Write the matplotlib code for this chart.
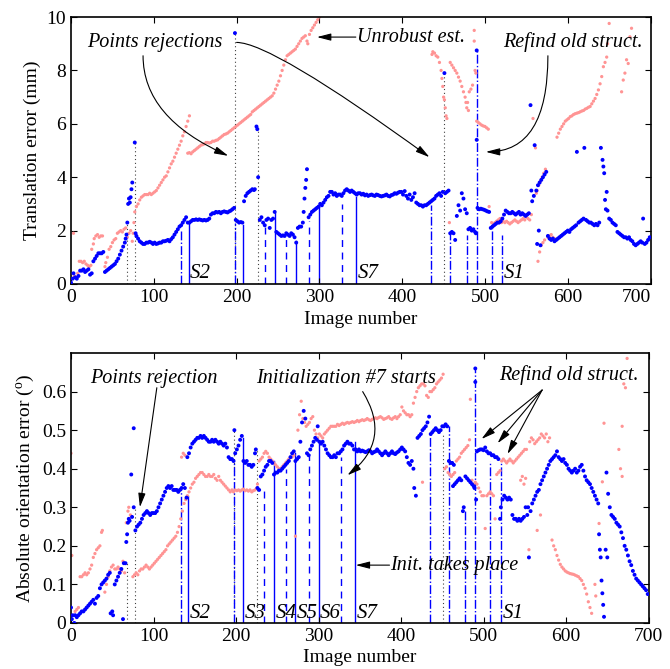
import numpy as np
import matplotlib
matplotlib.use('Agg')
import matplotlib.pyplot as plt

plt.rcParams['font.family'] = ['Liberation Serif', 'DejaVu Serif']
plt.rcParams['mathtext.fontset'] = 'custom'
plt.rcParams['mathtext.rm'] = 'Liberation Serif'
plt.rcParams['mathtext.it'] = 'Liberation Serif:italic'

# ---- translation error (top), robust estimation (blue) ----
tb_x = [0, 2, 3, 5, 7, 9, 11, 13, 15, 17,
        19, 21, 23, 25, 27, 29, 31, 33, 35, 37,
        39, 41, 43, 45, 47, 49, 51, 53, 55, 57,
        59, 61, 63, 65, 66, 67, 68, 69, 70, 71,
        72, 73, 74, 77, 78, 79, 81, 83, 85, 87,
        89, 91, 93, 95, 97, 99, 101, 103, 105, 107,
        109, 111, 113, 115, 117, 119, 121, 123, 125, 127,
        129, 131, 133, 135, 137, 139, 141, 143, 145, 147,
        149, 151, 153, 155, 157, 159, 161, 163, 165, 167,
        169, 171, 173, 175, 177, 179, 181, 183, 185, 187,
        189, 191, 193, 195, 197, 198, 199, 201, 203, 205,
        207, 209, 211, 213, 215, 217, 219, 221, 222, 224,
        225, 226, 228, 230, 232, 234, 236, 238, 240, 242,
        244, 246, 248, 250, 252, 254, 256, 258, 260, 262,
        264, 266, 268, 270, 272, 274, 276, 278, 280, 281,
        282, 283, 284, 285, 287, 289, 291, 293, 295, 297,
        299, 301, 303, 305, 307, 309, 311, 313, 315, 317,
        319, 321, 323, 325, 327, 329, 331, 333, 335, 337,
        339, 341, 343, 345, 347, 349, 351, 353, 355, 357,
        359, 361, 363, 365, 367, 369, 371, 373, 375, 377,
        379, 381, 383, 385, 387, 389, 391, 393, 395, 397,
        399, 401, 403, 405, 407, 409, 411, 413, 415, 417,
        419, 421, 423, 425, 427, 429, 431, 433, 435, 437,
        439, 441, 443, 445, 447, 449, 451, 452, 454, 456,
        458, 460, 462, 464, 466, 468, 470, 472, 474, 476,
        478, 480, 482, 484, 486, 488, 489, 490, 490, 491,
        493, 495, 497, 499, 501, 503, 505, 507, 509, 511,
        513, 515, 517, 519, 521, 523, 525, 527, 529, 531,
        533, 535, 537, 539, 541, 543, 545, 547, 549, 551,
        553, 555, 556, 557, 559, 560, 562, 563, 564, 565,
        566, 567, 568, 570, 572, 574, 576, 578, 580, 582,
        584, 586, 588, 590, 592, 594, 596, 598, 600, 602,
        604, 606, 608, 610, 611, 613, 615, 617, 619, 620,
        622, 624, 626, 628, 630, 632, 634, 636, 638, 640,
        642, 643, 644, 645, 646, 647, 648, 650, 652, 654,
        656, 658, 660, 662, 664, 666, 668, 670, 672, 674,
        676, 678, 680, 682, 684, 686, 688, 690, 691, 693,
        695, 697, 699]
tb_y = [0.05, 0.2, 0.4, 0.25, 0.2, 0.3, 0.5, 0.5, 0.55, 0.45,
        0.5, 0.55, 0.35, 0.4, 0.85, 0.95, 1.05, 1.15, 1.15, 1.15,
        1.2, 0.45, 0.5, 0.55, 0.6, 0.65, 0.7, 0.75, 0.85, 0.95,
        1.1, 1.25, 1.4, 1.55, 1.7, 1.85, 2.3, 3.0, 3.2, 3.05,
        3.25, 3.55, 3.8, 5.3, 1.9, 1.8, 1.7, 1.6, 1.55, 1.5,
        1.5, 1.55, 1.55, 1.58, 1.55, 1.5, 1.55, 1.5, 1.52, 1.55,
        1.55, 1.6, 1.6, 1.62, 1.65, 1.6, 1.68, 1.75, 1.85, 1.95,
        2.05, 2.15, 2.2, 2.3, 2.4, 2.5, 2.3, 2.3, 2.35, 2.4,
        2.4, 2.42, 2.4, 2.42, 2.4, 2.38, 2.4, 2.38, 2.4, 2.45,
        2.6, 2.65, 2.65, 2.7, 2.68, 2.7, 2.65, 2.7, 2.72, 2.7,
        2.68, 2.72, 2.75, 2.8, 2.85, 9.4, 2.4, 2.35, 2.3, 2.32,
        2.3, 3.1, 3.3, 3.4, 3.45, 3.5, 3.55, 3.52, 3.55, 5.9,
        5.8, 4.0, 2.4, 2.5, 2.3, 2.2, 2.4, 2.45, 2.1, 2.4,
        2.45, 2.7, 1.95, 1.9, 1.85, 1.8, 1.82, 1.8, 1.9, 1.85,
        1.8, 1.9, 1.85, 1.75, 1.55, 2.1, 2.15, 2.15, 2.3, 2.7,
        3.2, 3.6, 3.9, 4.3, 2.5, 2.6, 2.7, 2.75, 2.8, 2.85,
        2.9, 3.0, 2.95, 3.05, 3.15, 3.25, 3.3, 3.45, 3.45, 3.35,
        3.4, 3.3, 3.35, 3.35, 3.3, 3.4, 3.5, 3.55, 3.5, 3.45,
        3.5, 3.45, 3.4, 3.35, 3.4, 3.4, 3.35, 3.38, 3.32, 3.35,
        3.3, 3.33, 3.35, 3.32, 3.3, 3.35, 3.33, 3.3, 3.28, 3.3,
        3.32, 3.35, 3.3, 3.28, 3.33, 3.35, 3.4, 3.38, 3.42, 3.45,
        3.45, 3.35, 3.48, 3.3, 3.2, 3.35, 3.15, 3.25, 3.4, 3.05,
        3.0, 2.95, 2.95, 2.9, 2.95, 2.95, 3.0, 3.05, 3.1, 3.15,
        3.2, 3.3, 3.35, 3.4, 3.3, 3.45, 7.9, 3.4, 3.45, 3.5,
        1.9, 1.95, 1.9, 1.65, 2.55, 2.95, 2.75, 3.4, 3.2, 2.8,
        2.65, 2.05, 2.1, 2.0, 2.05, 1.95, 1.9, 8.75, 5.4, 2.85,
        2.8, 2.82, 2.8, 2.78, 2.75, 2.72, 2.7, 2.1, 2.15, 2.2,
        2.25, 2.3, 2.3, 2.35, 2.45, 2.6, 2.75, 2.7, 2.65, 2.65,
        2.7, 2.65, 2.6, 2.65, 2.7, 2.6, 2.65, 2.6, 2.55, 2.6,
        2.65, 6.7, 3.5, 3.1, 3.3, 5.2, 3.5, 1.5, 3.7, 2.0,
        3.8, 1.45, 3.9, 4.0, 4.1, 4.2, 1.8, 1.7, 1.65, 1.7,
        1.6, 1.65, 1.7, 1.75, 1.8, 1.85, 1.9, 1.95, 2.0, 1.95,
        2.05, 2.1, 2.15, 2.2, 4.95, 2.3, 2.35, 2.4, 2.45, 5.1,
        2.4, 2.35, 2.3, 2.3, 2.25, 2.2, 2.25, 2.2, 2.3, 5.1,
        4.65, 4.4, 4.15, 3.15, 2.8, 3.45, 2.75, 2.45, 2.4, 2.3,
        2.25, 2.2, 1.95, 1.9, 1.85, 1.8, 1.75, 1.75, 1.7, 1.75,
        1.65, 1.6, 1.5, 1.45, 1.5, 1.55, 1.6, 1.55, 2.45, 1.5,
        1.55, 1.65, 1.75]

# ---- translation error (top), unrobust estimation (pink) ----
tp_x = [3, 4, 6, 8, 10, 12, 14, 16, 18, 20,
        22, 24, 25, 27, 28, 30, 32, 34, 36, 38,
        41, 42, 44, 46, 48, 50, 52, 54, 56, 58,
        60, 62, 64, 66, 68, 70, 72, 74, 75, 76,
        77, 79, 81, 83, 85, 87, 89, 91, 93, 95,
        97, 99, 101, 103, 105, 107, 109, 111, 113, 115,
        117, 119, 121, 123, 125, 127, 129, 131, 133, 135,
        137, 139, 141, 143, 141, 143, 145, 147, 149, 151,
        153, 155, 157, 159, 161, 163, 165, 167, 169, 171,
        173, 175, 177, 179, 181, 183, 185, 187, 189, 191,
        193, 195, 197, 199, 201, 203, 205, 207, 209, 211,
        213, 215, 217, 219, 221, 223, 225, 227, 229, 231,
        233, 235, 237, 239, 241, 243, 245, 247, 249, 251,
        253, 255, 257, 259, 261, 263, 265, 267, 269, 271,
        273, 275, 277, 279, 281, 283, 285, 286, 288, 290,
        292, 294, 296, 298, 300, 436, 437, 439, 441, 443,
        445, 447, 448, 449, 450, 451, 452, 453, 454, 457,
        458, 460, 462, 464, 466, 468, 470, 472, 474, 476,
        477, 478, 479, 480, 481, 483, 485, 487, 487, 488,
        489, 490, 492, 494, 496, 498, 500, 502, 504, 505,
        508, 510, 512, 514, 516, 518, 520, 522, 524, 526,
        528, 530, 532, 534, 536, 538, 540, 542, 544, 546,
        548, 550, 552, 554, 556, 558, 561, 562, 563, 565,
        567, 569, 571, 573, 564, 566, 568, 570, 572, 576,
        578, 580, 582, 584, 587, 589, 591, 593, 595, 597,
        599, 601, 603, 605, 607, 609, 611, 613, 615, 617,
        619, 621, 623, 625, 627, 629, 631, 633, 635, 637,
        639, 641, 643, 645, 647, 648, 650, 665, 667, 669,
        671, 673, 675, 677]
tp_y = [1.9, 0.3, 0.25, 0.4, 0.85, 0.85, 0.8, 0.85, 0.75, 0.7,
        0.65, 0.7, 1.3, 1.5, 1.7, 1.8, 1.85, 1.75, 1.8, 1.8,
        0.65, 0.8, 1.0, 1.3, 1.4, 1.55, 1.65, 1.7, 1.9, 1.95,
        2.0, 1.95, 2.05, 2.1, 1.75, 1.9, 2.0, 1.6, 1.9, 2.3,
        2.7, 2.9, 3.0, 3.15, 3.25, 3.3, 3.35, 3.35, 3.35, 3.4,
        3.35, 3.4, 3.45, 3.5, 3.6, 3.7, 3.8, 3.9, 4.0, 4.05,
        4.2, 4.35, 4.5, 4.6, 4.75, 4.9, 5.05, 5.2, 5.35, 5.55,
        5.7, 5.9, 6.1, 6.3, 4.9, 4.92, 4.88, 4.95, 5.0, 5.05,
        5.1, 5.15, 5.2, 5.22, 5.25, 5.3, 5.3, 5.28, 5.3, 5.35,
        5.35, 5.38, 5.4, 5.45, 5.5, 5.55, 5.6, 5.62, 5.65, 5.7,
        5.75, 5.8, 5.85, 5.9, 5.95, 6.0, 6.05, 6.1, 6.15, 6.2,
        6.25, 6.3, 6.35, 6.45, 6.5, 6.55, 6.6, 6.65, 6.7, 6.75,
        6.8, 6.85, 6.9, 6.95, 7.0, 7.05, 7.15, 7.3, 7.45, 7.6,
        7.8, 8.0, 8.2, 8.4, 8.55, 8.6, 8.65, 8.7, 8.75, 8.8,
        8.9, 9.0, 9.1, 9.2, 9.25, 9.3, 9.1, 9.0, 9.35, 9.5,
        9.6, 9.7, 9.8, 9.9, 10.0, 8.6, 8.7, 8.65, 8.55, 8.5,
        8.3, 8.0, 7.7, 7.4, 7.0, 6.9, 6.6, 6.3, 6.2, 2.3,
        8.3, 8.2, 8.1, 8.0, 7.9, 7.75, 7.6, 7.4, 7.2, 7.0,
        6.8, 6.6, 6.8, 6.5, 7.2, 7.3, 7.45, 9.5, 9.1, 8.0,
        7.9, 6.1, 6.05, 6.0, 5.95, 5.92, 5.9, 5.85, 5.8, 2.9,
        2.3, 2.25, 2.3, 2.35, 2.4, 2.45, 2.3, 2.35, 2.3, 2.35,
        2.3, 2.25, 2.3, 2.35, 2.4, 2.35, 2.3, 2.35, 2.4, 2.45,
        2.4, 2.5, 2.45, 2.4, 2.6, 6.2, 5.1, 3.4, 3.5, 3.7,
        3.85, 4.0, 4.15, 4.3, 0.85, 1.2, 1.45, 1.55, 1.65, 1.75,
        1.8, 1.85, 1.75, 1.7, 5.5, 5.65, 5.8, 5.9, 6.0, 6.1,
        6.15, 6.2, 6.27, 6.3, 6.35, 6.38, 6.4, 6.42, 6.45, 6.48,
        6.5, 6.55, 6.58, 6.62, 6.65, 6.75, 6.85, 6.95, 7.1, 7.27,
        7.5, 7.77, 8.14, 8.3, 8.5, 9.0, 9.76, 7.2, 7.64, 7.9,
        8.4, 8.26, 9.26, 9.58]

# ---- orientation error (bottom), robust (blue) ----
bb_x = [0, 1, 2, 4, 5, 7, 9, 11, 13, 15,
        17, 19, 21, 23, 25, 27, 29, 31, 33, 35,
        37, 39, 41, 43, 45, 47, 48, 50, 51, 53,
        55, 57, 59, 61, 63, 64, 66, 67, 68, 69,
        70, 71, 73, 74, 76, 76, 78, 80, 82, 84,
        86, 88, 90, 92, 94, 96, 98, 100, 102, 104,
        106, 108, 110, 112, 114, 116, 118, 120, 122, 124,
        126, 128, 130, 132, 134, 136, 138, 140, 141, 143,
        145, 147, 149, 151, 153, 155, 157, 159, 161, 163,
        165, 167, 169, 171, 173, 175, 177, 179, 181, 183,
        185, 187, 189, 191, 193, 195, 197, 198, 199, 201,
        203, 205, 207, 209, 211, 213, 215, 217, 219, 221,
        223, 224, 226, 228, 230, 232, 234, 236, 238, 240,
        242, 244, 246, 248, 250, 252, 254, 256, 258, 260,
        262, 264, 266, 268, 270, 272, 274, 276, 278, 280,
        282, 284, 286, 288, 290, 292, 294, 296, 298, 299,
        301, 303, 305, 307, 309, 311, 313, 315, 317, 319,
        321, 323, 325, 327, 329, 331, 333, 335, 337, 339,
        341, 343, 345, 347, 349, 351, 353, 355, 357, 359,
        361, 363, 365, 367, 369, 371, 373, 375, 377, 379,
        381, 383, 385, 387, 389, 391, 393, 395, 397, 399,
        401, 403, 405, 407, 409, 411, 413, 415, 416, 418,
        420, 422, 424, 426, 428, 430, 432, 434, 436, 438,
        440, 442, 444, 446, 448, 450, 452, 454, 456, 458,
        460, 462, 464, 463, 465, 467, 469, 471, 473, 475,
        476, 478, 480, 482, 484, 486, 488, 489, 490, 490,
        491, 492, 494, 496, 498, 500, 502, 504, 506, 508,
        510, 512, 514, 516, 518, 520, 521, 523, 525, 527,
        529, 531, 533, 535, 537, 539, 541, 543, 545, 547,
        549, 551, 553, 554, 555, 557, 559, 561, 563, 565,
        567, 569, 571, 573, 575, 577, 579, 581, 583, 585,
        587, 589, 591, 593, 595, 597, 599, 601, 603, 605,
        607, 609, 611, 613, 615, 617, 619, 621, 623, 625,
        627, 629, 631, 633, 635, 637, 639, 640, 641, 642,
        643, 644, 645, 646, 648, 649, 650, 651, 653, 655,
        657, 659, 661, 663, 665, 667, 669, 671, 673, 675,
        677, 679, 681, 683, 685, 687, 689, 691, 693, 695,
        697, 699]
bb_y = [0.04, 0.01, 0.02, 0.0, 0.02, 0.015, 0.02, 0.025, 0.03, 0.03,
        0.035, 0.04, 0.045, 0.05, 0.055, 0.06, 0.05, 0.065, 0.07, 0.09,
        0.1, 0.105, 0.11, 0.115, 0.125, 0.13, 0.025, 0.03, 0.02, 0.1,
        0.11, 0.12, 0.13, 0.14, 0.01, 0.155, 0.155, 0.21, 0.23, 0.26,
        0.27, 0.265, 0.385, 0.275, 0.505, 0.3, 0.24, 0.25, 0.255, 0.26,
        0.27, 0.28, 0.285, 0.29, 0.285, 0.28, 0.285, 0.285, 0.285, 0.29,
        0.3, 0.31, 0.32, 0.33, 0.34, 0.35, 0.355, 0.35, 0.355, 0.345,
        0.345, 0.345, 0.34, 0.345, 0.35, 0.36, 0.35, 0.325, 0.43, 0.44,
        0.455, 0.465, 0.47, 0.475, 0.48, 0.48, 0.485, 0.48, 0.485, 0.48,
        0.475, 0.47, 0.47, 0.475, 0.47, 0.475, 0.47, 0.465, 0.47, 0.465,
        0.46, 0.465, 0.455, 0.43, 0.425, 0.425, 0.42, 0.5, 0.44, 0.45,
        0.46, 0.475, 0.485, 0.42, 0.415, 0.42, 0.41, 0.41, 0.405, 0.41,
        0.44, 0.45, 0.35, 0.345, 0.38, 0.385, 0.395, 0.405, 0.41, 0.42,
        0.42, 0.415, 0.385, 0.39, 0.39, 0.395, 0.395, 0.4, 0.405, 0.41,
        0.415, 0.42, 0.43, 0.44, 0.445, 0.42, 0.425, 0.43, 0.47, 0.52,
        0.55, 0.53, 0.44, 0.435, 0.45, 0.46, 0.47, 0.48, 0.475, 0.51,
        0.47, 0.465, 0.47, 0.46, 0.45, 0.44, 0.435, 0.43, 0.43, 0.435,
        0.43, 0.44, 0.44, 0.445, 0.45, 0.46, 0.465, 0.47, 0.465, 0.465,
        0.46, 0.45, 0.45, 0.445, 0.45, 0.445, 0.447, 0.445, 0.443, 0.445,
        0.448, 0.445, 0.44, 0.443, 0.445, 0.45, 0.445, 0.44, 0.435, 0.44,
        0.445, 0.44, 0.435, 0.44, 0.445, 0.44, 0.438, 0.442, 0.445, 0.45,
        0.455, 0.45, 0.445, 0.43, 0.415, 0.41, 0.42, 0.4, 0.35, 0.33,
        0.48, 0.485, 0.49, 0.5, 0.505, 0.51, 0.52, 0.535, 0.49, 0.495,
        0.5, 0.505, 0.5, 0.495, 0.5, 0.51, 0.51, 0.515, 0.51, 0.42,
        0.415, 0.415, 0.41, 0.355, 0.36, 0.365, 0.37, 0.375, 0.37, 0.29,
        0.3, 0.38, 0.375, 0.37, 0.365, 0.36, 0.355, 0.35, 0.66, 0.625,
        0.32, 0.445, 0.448, 0.45, 0.45, 0.448, 0.455, 0.445, 0.44, 0.44,
        0.435, 0.435, 0.43, 0.43, 0.425, 0.27, 0.3, 0.32, 0.33, 0.325,
        0.32, 0.325, 0.32, 0.28, 0.27, 0.27, 0.265, 0.27, 0.265, 0.27,
        0.275, 0.3, 0.28, 0.3, 0.17, 0.29, 0.31, 0.32, 0.33, 0.34,
        0.345, 0.36, 0.37, 0.38, 0.39, 0.4, 0.41, 0.42, 0.425, 0.43,
        0.435, 0.445, 0.43, 0.425, 0.42, 0.425, 0.415, 0.41, 0.4, 0.395,
        0.39, 0.395, 0.4, 0.39, 0.395, 0.405, 0.41, 0.395, 0.38, 0.37,
        0.365, 0.36, 0.35, 0.34, 0.33, 0.32, 0.31, 0.23, 0.19, 0.17,
        0.11, 0.077, 0.047, 0.016, 0.19, 0.39, 0.17, 0.335, 0.3, 0.28,
        0.275, 0.27, 0.26, 0.255, 0.25, 0.235, 0.22, 0.2, 0.19, 0.175,
        0.16, 0.15, 0.135, 0.125, 0.115, 0.11, 0.105, 0.1, 0.095, 0.09,
        0.085, 0.075]

# ---- orientation error (bottom), unrobust (pink) ----
bp_x = [0, 1, 3, 5, 7, 9, 11, 13, 15, 17,
        19, 21, 23, 25, 27, 29, 31, 33, 35, 37,
        38, 41, 43, 45, 47, 49, 51, 53, 55, 57,
        59, 61, 63, 65, 67, 69, 70, 72, 75, 77,
        79, 81, 83, 85, 87, 89, 91, 93, 95, 97,
        99, 101, 103, 105, 107, 109, 111, 113, 115, 117,
        119, 121, 123, 125, 127, 129, 131, 133, 135, 137,
        139, 134, 136, 138, 141, 143, 145, 147, 149, 151,
        153, 155, 157, 159, 161, 163, 165, 167, 169, 171,
        173, 175, 177, 179, 181, 183, 185, 187, 189, 191,
        193, 195, 197, 199, 201, 203, 205, 207, 209, 211,
        213, 215, 217, 219, 221, 223, 225, 226, 228, 230,
        232, 234, 236, 238, 240, 242, 244, 246, 248, 250,
        252, 254, 256, 258, 260, 262, 264, 266, 268, 270,
        272, 275, 277, 279, 281, 283, 285, 287, 289, 291,
        293, 295, 297, 299, 301, 303, 305, 307, 309, 311,
        313, 315, 317, 319, 321, 323, 325, 327, 329, 331,
        333, 335, 337, 339, 341, 343, 345, 347, 349, 351,
        353, 355, 357, 359, 361, 363, 365, 367, 369, 371,
        373, 375, 377, 379, 381, 383, 385, 387, 389, 391,
        393, 395, 397, 399, 401, 403, 405, 407, 409, 411,
        413, 415, 417, 419, 421, 423, 425, 426, 427, 429,
        431, 433, 435, 437, 439, 441, 443, 445, 447, 449,
        451, 453, 455, 457, 459, 461, 463, 465, 467, 469,
        471, 473, 475, 477, 479, 481, 483, 484, 486, 488,
        490, 492, 494, 496, 498, 500, 502, 504, 506, 508,
        510, 512, 514, 516, 518, 520, 522, 524, 526, 528,
        530, 532, 534, 536, 538, 540, 542, 544, 546, 548,
        550, 552, 545, 547, 549, 551, 555, 556, 558, 560,
        562, 564, 566, 568, 570, 572, 574, 576, 578, 580,
        565, 569, 583, 585, 587, 589, 591, 593, 595, 597,
        599, 601, 603, 605, 607, 609, 611, 613, 615, 617,
        619, 621, 623, 625, 627, 629, 631, 635, 636, 640,
        644, 646, 664, 666, 668, 668, 670, 672, 674]
bp_y = [0.44, 0.175, 0.02, 0.03, 0.035, 0.04, 0.12, 0.12, 0.125, 0.13,
        0.125, 0.13, 0.14, 0.15, 0.17, 0.18, 0.19, 0.195, 0.2, 0.235,
        0.24, 0.08, 0.1, 0.12, 0.135, 0.145, 0.15, 0.14, 0.14, 0.145,
        0.14, 0.135, 0.16, 0.13, 0.26, 0.29, 0.3, 0.28, 0.12, 0.125,
        0.13, 0.125, 0.135, 0.14, 0.14, 0.145, 0.15, 0.145, 0.14, 0.145,
        0.15, 0.155, 0.16, 0.165, 0.17, 0.175, 0.18, 0.185, 0.19, 0.2,
        0.205, 0.21, 0.215, 0.22, 0.225, 0.235, 0.25, 0.27, 0.29, 0.31,
        0.32, 0.43, 0.44, 0.435, 0.33, 0.34, 0.35, 0.36, 0.365, 0.375,
        0.38, 0.385, 0.39, 0.39, 0.385, 0.38, 0.38, 0.385, 0.38, 0.38,
        0.385, 0.375, 0.37, 0.38, 0.37, 0.365, 0.36, 0.355, 0.35, 0.345,
        0.34, 0.345, 0.34, 0.345, 0.343, 0.345, 0.342, 0.345, 0.347, 0.343,
        0.345, 0.342, 0.345, 0.34, 0.343, 0.345, 0.35, 0.36, 0.42, 0.425,
        0.43, 0.44, 0.445, 0.44, 0.43, 0.425, 0.42, 0.415, 0.41, 0.405,
        0.4, 0.4, 0.405, 0.41, 0.415, 0.42, 0.425, 0.43, 0.43, 0.435,
        0.225, 0.5, 0.54, 0.575, 0.53, 0.52, 0.51, 0.515, 0.52, 0.53,
        0.535, 0.5, 0.49, 0.48, 0.49, 0.485, 0.48, 0.49, 0.495, 0.5,
        0.505, 0.51, 0.51, 0.51, 0.51, 0.515, 0.512, 0.515, 0.518, 0.515,
        0.518, 0.52, 0.518, 0.52, 0.522, 0.52, 0.522, 0.525, 0.522, 0.525,
        0.527, 0.525, 0.527, 0.53, 0.527, 0.525, 0.528, 0.53, 0.532, 0.53,
        0.533, 0.535, 0.532, 0.528, 0.53, 0.532, 0.535, 0.53, 0.528, 0.532,
        0.535, 0.53, 0.535, 0.54, 0.56, 0.55, 0.545, 0.54, 0.54, 0.535,
        0.54, 0.57, 0.585, 0.6, 0.61, 0.615, 0.62, 0.365, 0.62, 0.615,
        0.59, 0.585, 0.6, 0.6, 0.605, 0.61, 0.62, 0.625, 0.63, 0.635,
        0.645, 0.4, 0.405, 0.39, 0.385, 0.38, 0.385, 0.39, 0.42, 0.425,
        0.43, 0.44, 0.445, 0.45, 0.455, 0.46, 0.475, 0.58, 0.37, 0.36,
        0.365, 0.36, 0.35, 0.34, 0.33, 0.33, 0.245, 0.33, 0.335, 0.34,
        0.335, 0.33, 0.27, 0.385, 0.39, 0.395, 0.42, 0.425, 0.42, 0.415,
        0.42, 0.425, 0.42, 0.415, 0.42, 0.425, 0.43, 0.435, 0.44, 0.445,
        0.45, 0.45, 0.37, 0.38, 0.36, 0.375, 0.19, 0.47, 0.48, 0.475,
        0.465, 0.47, 0.475, 0.48, 0.49, 0.485, 0.48, 0.49, 0.47, 0.48,
        0.24, 0.28, 0.215, 0.2, 0.19, 0.175, 0.163, 0.152, 0.145, 0.14,
        0.135, 0.132, 0.13, 0.128, 0.127, 0.126, 0.124, 0.122, 0.12, 0.115,
        0.11, 0.1, 0.09, 0.075, 0.055, 0.04, 0.025, 0.1, 0.07, 0.258,
        0.366, 0.518, 0.45, 0.4, 0.51, 0.38, 0.62, 0.61, 0.686]

# ---- events (vertical stems) ----
ev_x = [68, 77, 133, 142, 198, 198, 208, 226, 234, 246, 260, 272,
        288, 300, 327, 344, 435, 451, 458, 478, 490, 508, 521]
ev_kind = ['reject', 'reject', 'refind', 'init', 'reject', 'refind', 'init',
           'reject', 'start', 'init', 'start', 'init', 'start', 'init',
           'start', 'init', 'refind', 'reject', 'refind', 'refind',
           'refind', 'refind', 'refind']
ev_top_h = [2.3, 5.3, 2.0, 2.3, 9.4, 2.3, 2.2, 5.9, 2.15, 2.65, 1.85, 1.6,
            2.35, 2.9, 3.0, 3.27, 2.96, 7.9, 1.9, 1.85, 8.75, 2.1, 1.85]
ev_bot_h = [0.155, 0.3, 0.35, 0.33, 0.5, 0.42, 0.48, 0.45, 0.35, 0.42, 0.4,
            0.44, 0.44, 0.47, 0.43, 0.47, 0.49, 0.49, 0.51, 0.29, 0.66,
            0.42, 0.42]

seq_top = ['S2', 'S7', 'S1']
seq_top_x = [142, 344, 521]
seq_bot = ['S2', 'S3', 'S4', 'S5', 'S6', 'S7', 'S1']
seq_bot_x = [142, 208, 246, 272, 300, 344, 521]

styles = {'reject': dict(color='0.25', ls=(0, (1, 2.5)), lw=0.8),
          'refind': dict(color='blue', ls='-.', lw=1.0),
          'start': dict(color='blue', ls=(0, (5, 4)), lw=1.0),
          'init': dict(color='blue', ls='-', lw=1.0)}

BLUE = '#0000ff'
PINK = '#ff9494'
FS = 14
FA = 14.5

fig = plt.figure(figsize=(6.70, 6.69), dpi=100)
ax1 = fig.add_axes([0.106, 0.5755, 0.865, 0.399])
ax2 = fig.add_axes([0.106, 0.0688, 0.862, 0.4035])


def draw_panel(ax, bx, by, px, py, heights):
    for x, k, h in zip(ev_x, ev_kind, heights):
        ax.plot([x, x], [0, h], zorder=1, **styles[k])
    n = min(len(px), len(py))
    ax.scatter(px[:n], py[:n], s=5.5, color=PINK, edgecolors='none', zorder=2)
    n = min(len(bx), len(by))
    ax.scatter(bx[:n], by[:n], s=8, color=BLUE, edgecolors='none', zorder=3)
    ax.set_xlim(0, 700)
    ax.tick_params(direction='in', top=True, right=True, labelsize=FS,
                   length=4, width=0.8)
    for sp in ax.spines.values():
        sp.set_linewidth(1.2)
    ax.set_xlabel('Image number', fontsize=FS, labelpad=4)


draw_panel(ax1, tb_x, tb_y, tp_x, tp_y, ev_top_h)
ax1.set_ylim(0, 10)
ax1.set_yticks([0, 2, 4, 6, 8, 10])
ax1.set_xticks([0, 100, 200, 300, 400, 500, 600, 700])
lbls = ax1.set_xticklabels(['0', '100', '200', '300', '400', '500', '600', '700'])
lbls[-1].set_horizontalalignment('right')
ax1.set_ylabel('Translation error (mm)', fontsize=FS)

draw_panel(ax2, bb_x, bb_y, bp_x, bp_y, ev_bot_h)
ax2.set_ylim(0, 0.7)
ax2.set_yticks([0, 0.1, 0.2, 0.3, 0.4, 0.5, 0.6])
ax2.set_yticklabels(['0', '0.1', '0.2', '0.3', '0.4', '0.5', '0.6'])
ax2.set_xticks([0, 100, 200, 300, 400, 500, 600, 700])
ax2.set_ylabel(r'Absolute orientation error ($^{\mathrm{o}}$)', fontsize=FS)
ax2.xaxis.labelpad = 3

for s, x in zip(seq_top, seq_top_x):
    ax1.text(x + 2, 0.05, s, style='italic', fontsize=15, ha='left', va='bottom')
for s, x in zip(seq_bot, seq_bot_x):
    ax2.text(x + 2, 0.0, s, style='italic', fontsize=15, ha='left', va='bottom')

arrow = dict(arrowstyle='-|>,head_length=0.7,head_width=0.18', color='black',
             lw=0.8, shrinkA=0, shrinkB=0, mutation_scale=12)

# top annotations
ax1.text(101, 9.05, 'Points rejections', style='italic', fontsize=FA,
         ha='center', va='center')
ax1.annotate('', xy=(190, 4.8), xytext=(87, 8.55),
             arrowprops=dict(connectionstyle='angle3,angleA=-90,angleB=-24', **arrow))
ax1.annotate('', xy=(433, 4.75), xytext=(200, 9.05),
             arrowprops=dict(connectionstyle='angle3,angleA=0,angleB=-36', **arrow))
ax1.text(345, 9.25, 'Unrobust est.', style='italic', fontsize=FA,
         ha='left', va='center')
ax1.annotate('', xy=(297, 9.25), xytext=(344, 9.25), arrowprops=dict(**arrow))
ax1.text(606, 9.05, 'Refind old struct.', style='italic', fontsize=FA,
         ha='center', va='center')
ax1.annotate('', xy=(501, 4.95), xytext=(576, 8.55),
             arrowprops=dict(connectionstyle='angle3,angleA=-90,angleB=0', **arrow))

# bottom annotations
ax2.text(101, 0.635, 'Points rejection', style='italic', fontsize=FA,
         ha='center', va='center')
ax2.annotate('', xy=(83.5, 0.30), xytext=(104, 0.61), arrowprops=dict(**arrow))
ax2.text(333, 0.633, 'Initialization #7 starts', style='italic', fontsize=FA,
         ha='center', va='center')
ax2.annotate('', xy=(335, 0.383), xytext=(353.5, 0.6),
             arrowprops=dict(connectionstyle='arc3,rad=-0.45', **arrow))
ax2.text(387, 0.15, 'Init. takes place', style='italic', fontsize=FA,
         ha='left', va='center')
ax2.annotate('', xy=(345, 0.15), xytext=(386, 0.15), arrowprops=dict(**arrow))
ax2.text(603, 0.643, 'Refind old struct.', style='italic', fontsize=FA,
         ha='center', va='center')
for tx, ty in [(497.5, 0.477), (517, 0.466), (529, 0.438)]:
    ax2.annotate('', xy=(tx, ty), xytext=(571, 0.604), arrowprops=dict(**arrow))

fig.savefig('out.png', dpi=100)
